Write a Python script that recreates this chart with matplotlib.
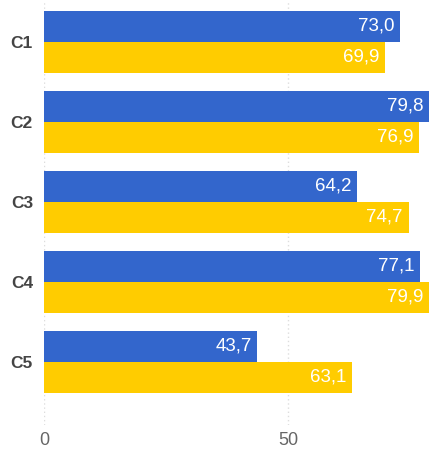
import matplotlib
matplotlib.use("Agg")
import matplotlib.pyplot as plt
import numpy as np

categories = ["C1", "C2", "C3", "C4", "C5"]
series_a = [73.0, 79.8, 64.2, 77.1, 43.7]
series_b = [69.9, 76.9, 74.7, 79.9, 63.1]
xticks = [0, 50]

FAM = ['Liberation Sans', 'DejaVu Sans']
W, H = 429, 453
fig = plt.figure(figsize=(W/100, H/100), dpi=100)
ax = fig.add_axes([44/W, 1-425/H, 1-44/W, 425/H])

y = np.arange(len(categories))
h = 31/80
ax.barh(y - h/2, series_a, height=h, color="#3366CC", zorder=2)
ax.barh(y + h/2, series_b, height=h, color="#FFCC00", zorder=2)

def fmt(v):
    return f"{v:.1f}".replace(".", ",")

xmax = (429-44)/4.88
for yi, va, vb in zip(y, series_a, series_b):
    for off, v in ((-h/2, va), (h/2, vb)):
        xe = min(v, xmax)
        ax.annotate(fmt(v), xy=(xe, yi + off), xytext=(-4, 0), textcoords="offset points",
                    ha="right", va="center", color="white", fontsize=13.5, family=FAM, zorder=3)

ax.set_xlim(0, xmax)
ax.set_ylim(4.79, -0.525)
ax.set_yticks(y)
ax.set_yticklabels(categories, fontsize=12.5, fontweight="bold", color="#444444", family=FAM)
ax.set_xticks(xticks)
ax.set_xticklabels([str(t) for t in xticks], fontsize=13, color="#666666", family=FAM)
ax.tick_params(axis="both", length=0)
ax.tick_params(axis="x", pad=5)
ax.tick_params(axis="y", pad=8)
for s in ax.spines.values():
    s.set_visible(False)
ax.grid(axis="x", color="#dddddd", linestyle=(0, (1, 2)), linewidth=1, zorder=0)
fig.savefig("out.png", dpi=100)
